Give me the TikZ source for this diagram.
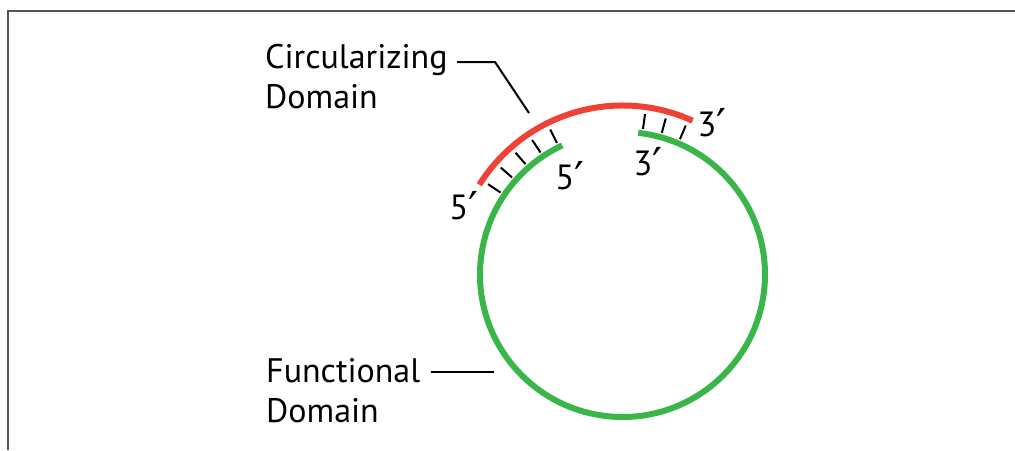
\documentclass[tikz,border=0pt]{standalone}
\usepackage{fontspec}
\setmainfont{PT Sans}
\newfontfamily\primef{DejaVu Sans}
\newcommand{\pr}{\raisebox{-4pt}{\primef\fontsize{44}{44}\selectfont ′}}
\usetikzlibrary{calc}
\definecolor{rnared}{RGB}{239,65,54}
\definecolor{rnagreen}{RGB}{57,181,74}
\definecolor{framegray}{RGB}{85,85,85}
\begin{document}
\begin{tikzpicture}[x=1pt,y=1pt,
  strand/.style={line width=6pt},
  tick/.style={black,line width=2pt},
  lead/.style={black,line width=2pt},
  lbl/.style={font=\fontsize{34}{40}\selectfont,inner sep=0pt,align=left},
  endlbl/.style={font=\fontsize{35}{41}\selectfont,inner sep=0pt}]
\useasboundingbox (0,0) rectangle (1015,-450);
% frame (left and top only)
\draw[framegray,line width=2pt] (8,-450) -- (8,-10.5) -- (1015,-10.5);
\coordinate (c) at (622.5,-274.5);
% strands
\draw[strand,rnagreen] ($(c)+(83.7:142.5)$) coordinate (g3)
   arc[start angle=83.7,end angle=-245,radius=142.5] coordinate (g5);
\draw[strand,rnared] ($(c)+(147.9:169)$) coordinate (r5)
   arc[start angle=147.9,end angle=65.5,radius=169] coordinate (r3);
% base pairing ticks
\foreach \a in {116.5,123.9,131.3,138.7,146.1,67,74.5,82}
  \draw[tick] ($(c)+(\a:147)$) -- ($(c)+(\a:162)$);
% end labels
\node[endlbl] (l5a) at (464,-207) {5\pr};
\node[endlbl] (l5b) at (570,-177) {5\pr};
\node[endlbl] (l3a) at (648,-163) {3\pr};
\node[endlbl] (l3b) at (712,-124) {3\pr};
% domain labels
\node[lbl,anchor=base west] (circ) at (265,-108) {Circularizing\\Domain};
\node[lbl,anchor=base west] (func) at (266,-422) {Functional\\Domain};
\coordinate (ca) at (457,-62);
\coordinate (cb) at (495,-62);
\coordinate (cc) at (529,-113);
\draw[lead] (ca) -- (cb) -- (cc);
\coordinate (fa) at (431,-372);
\coordinate (fb) at (494,-372);
\draw[lead] (fa) -- (fb);
\end{tikzpicture}
\end{document}
